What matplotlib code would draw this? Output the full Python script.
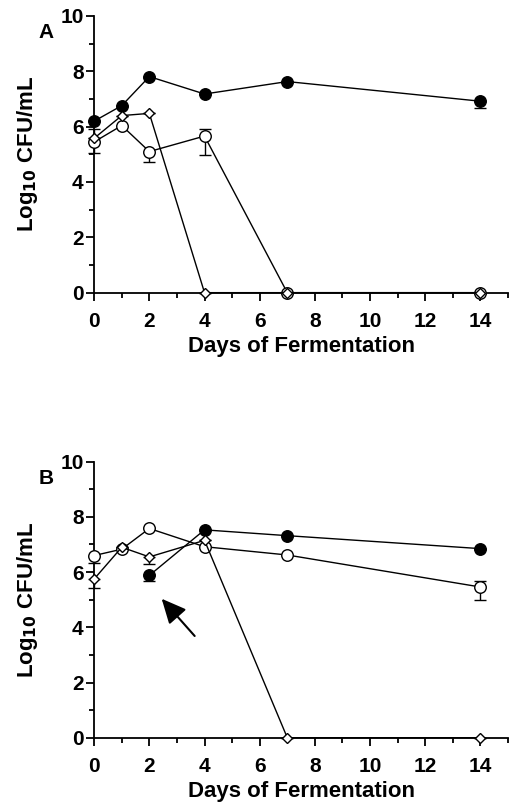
import numpy as np
import matplotlib
matplotlib.use("Agg")
import matplotlib.pyplot as plt

plt.rcParams['font.family'] = ['Liberation Sans', 'DejaVu Sans']
plt.rcParams['font.weight'] = 'bold'

days = [0, 1, 2, 4, 7, 14]

# panel A
a_filled = [6.2, 6.76, 7.81, 7.18, 7.63, 6.92]
a_filled_lo = [0, 0, 0, 0, 0, 0.25]
a_filled_hi = [0, 0, 0, 0, 0, 0]
a_open = [5.45, 6.04, 5.1, 5.66, 0, 0]
a_open_lo = [0.39, 0, 0.37, 0.7, 0, 0]
a_open_hi = [0.45, 0, 0, 0.27, 0, 0]
a_diam = [5.58, 6.4, 6.48, 0, 0, 0]

# panel B (filled series starts at day 2)
b_days_filled = [2, 4, 7, 14]
b_filled = [5.88, 7.53, 7.32, 6.85]
b_filled_lo = [0.2, 0, 0, 0]
b_open = [6.6, 6.83, 7.58, 6.92, 6.62, 5.46]
b_open_lo = [0.28, 0, 0, 0, 0, 0.47]
b_open_hi = [0.0, 0, 0, 0, 0, 0.22]
b_diam = [5.75, 6.9, 6.55, 7.15, 0, 0]
b_diam_lo = [0.32, 0, 0.27, 0, 0, 0]

fig = plt.figure(figsize=(5.09, 8.08), dpi=100)
axA = fig.add_axes([0.185, 0.6378, 0.813, 0.3424])
axB = fig.add_axes([0.185, 0.087, 0.813, 0.3416])


def series(ax, x, y, lo, hi, marker, face, ms):
    ax.errorbar(x, y, yerr=[lo, hi], fmt='none', ecolor='black', elinewidth=1.0,
                capsize=4, capthick=1.0, zorder=2, clip_on=False)
    ax.plot(x, y, color='black', lw=1.0, marker=marker, ms=ms, mfc=face,
            mec='black', mew=1.0, zorder=3, clip_on=False)


def style(ax, label):
    ax.set_xlim(0, 15)
    ax.set_ylim(0, 10)
    ax.spines['top'].set_visible(False)
    ax.spines['right'].set_visible(False)
    ax.spines['left'].set_linewidth(1.3)
    ax.spines['bottom'].set_linewidth(1.3)
    ax.set_xticks(np.arange(0, 15, 2))
    ax.set_xticks(np.arange(0, 16, 1), minor=True)
    ax.set_yticks(np.arange(0, 11, 2))
    ax.set_yticks(np.arange(0, 11, 1), minor=True)
    ax.tick_params(which='major', length=5.5, width=1.3, labelsize=15)
    ax.tick_params(axis='y', which='major', pad=2)
    ax.tick_params(axis='x', which='major', pad=8.5)
    ax.tick_params(which='minor', length=3.5, width=1.3)
    for t in ax.get_xticklabels() + ax.get_yticklabels():
        t.set_fontweight('bold')
    ax.set_xlabel('Days of Fermentation', fontsize=16, fontweight='bold', labelpad=3.5)
    ax.set_ylabel('Log$_\\mathbf{10}$ CFU/mL', fontsize=16, fontweight='bold', labelpad=15)
    ax.text(-0.116, 0.94, label, transform=ax.transAxes, fontsize=15,
            fontweight='bold', ha='center', va='center')


zeros = [0] * 6
series(axA, days, a_filled, a_filled_lo, a_filled_hi, 'o', 'black', 8.3)
series(axA, days, a_open, a_open_lo, a_open_hi, 'o', 'white', 8.3)
series(axA, days, a_diam, zeros, zeros, 'D', 'white', 5)
style(axA, 'A')

series(axB, b_days_filled, b_filled, b_filled_lo, [0] * 4, 'o', 'black', 8.3)
series(axB, days, b_open, b_open_lo, b_open_hi, 'o', 'white', 8.3)
series(axB, days, b_diam, b_diam_lo, zeros, 'D', 'white', 5)
style(axB, 'B')

axB.annotate('', xy=(2.38, 5.11), xytext=(3.71, 3.61),
             arrowprops=dict(arrowstyle='-|>,head_length=1.5,head_width=0.7',
                             color='black', lw=1.5))

fig.savefig('out.png', dpi=100)
